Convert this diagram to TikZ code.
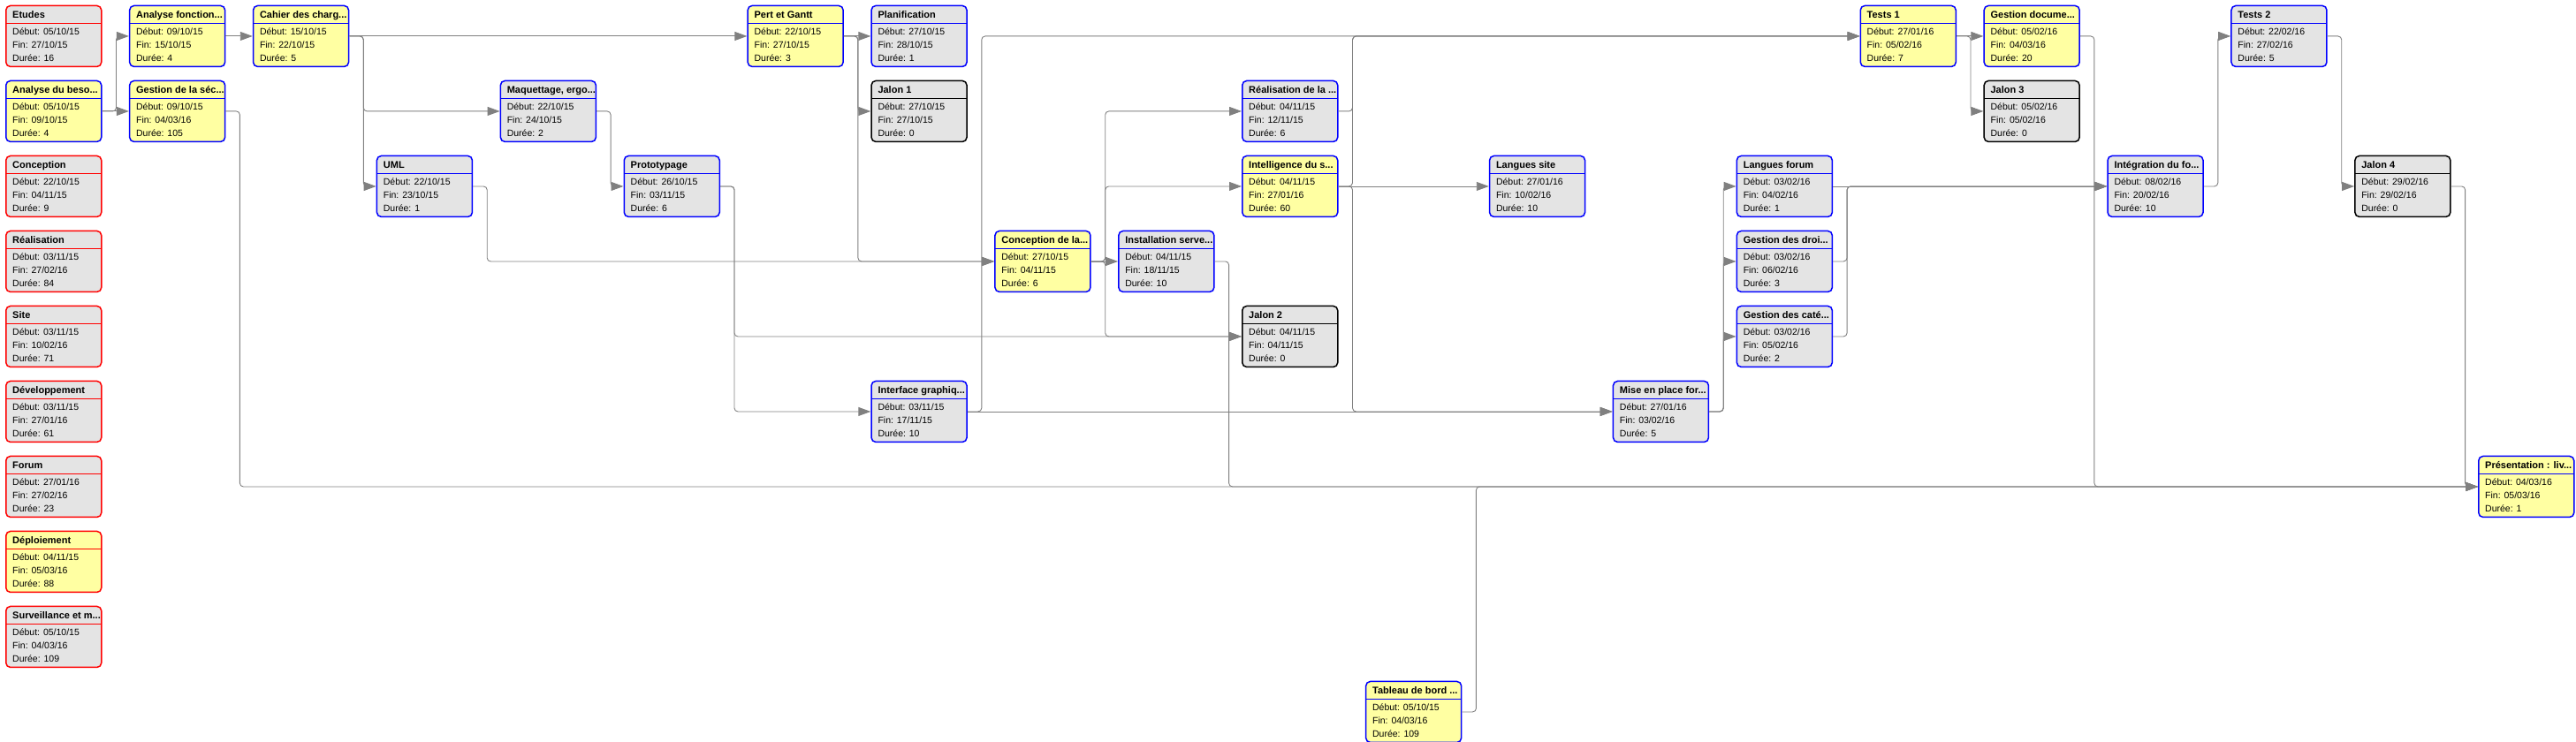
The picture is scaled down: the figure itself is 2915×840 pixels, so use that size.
\documentclass[tikz,border=0pt]{standalone}
\usepackage{fontspec}
\setmainfont{Liberation Sans}
\usepackage{tikz}
\usetikzlibrary{arrows.meta, calc}
\definecolor{fondjaune}{HTML}{FFFFA2}
\definecolor{fondgris}{HTML}{E4E4E4}
\definecolor{bordbleu}{HTML}{0000FF}
\definecolor{bordrouge}{HTML}{FF0000}
\definecolor{bordnoir}{HTML}{000000}
\definecolor{trait}{HTML}{808080}

% une tache : nom, colonne, ligne, fond, bord, titre, debut, fin, duree
\newcommand{\tache}[9]{%
  \node[tache, fill=#4, draw=#5,
        path picture={\draw[#5, line width=1pt]
          ([yshift=-19.6pt]path picture bounding box.north west) --
          ([yshift=-19.6pt]path picture bounding box.north east);}]
    (#1) at ({6+139.9*#2},{5.7+85*#3}) {};
  \node[titre] (#1-t) at ([shift={(8,14.6)}]#1.north west) {#6};
  \node[ligne] (#1-d) at ([shift={(8,33.4)}]#1.north west) {Début: #7};
  \node[ligne] (#1-f) at ([shift={(8,48.4)}]#1.north west) {Fin: #8};
  \node[ligne] (#1-u) at ([shift={(8,63.4)}]#1.north west) {Durée: #9};
}

\begin{document}
\begin{tikzpicture}[
  x=1pt, y=-1pt,
  tache/.style={
    rectangle, rounded corners=5pt, line width=1.5pt,
    minimum width=108pt, minimum height=69pt,
    inner sep=0pt, anchor=north west
  },
  titre/.style={anchor=base west, inner sep=0pt,
    font=\fontsize{11}{13}\selectfont\bfseries},
  ligne/.style={anchor=base west, inner sep=0pt,
    font=\fontsize{10.5}{13}\selectfont},
  lien/.style={draw=trait, line width=0.9pt, rounded corners=4pt,
    -{Triangle[length=14pt,width=10pt]}, fill=none,
    to path={-- ++(16,0) |- (\tikztotarget)}},
  droit/.style={lien, to path={-- (\tikztotarget)}}
]
  \useasboundingbox (0,0) rectangle (2915,840);

  \tache{etudes}{0}{0}{fondgris}{bordrouge}{Etudes}{05/10/15}{27/10/15}{16}
  \tache{besoin}{0}{1}{fondjaune}{bordbleu}{Analyse du beso...}{05/10/15}{09/10/15}{4}
  \tache{conception}{0}{2}{fondgris}{bordrouge}{Conception}{22/10/15}{04/11/15}{9}
  \tache{realisation}{0}{3}{fondgris}{bordrouge}{Réalisation}{03/11/15}{27/02/16}{84}
  \tache{site}{0}{4}{fondgris}{bordrouge}{Site}{03/11/15}{10/02/16}{71}
  \tache{dev}{0}{5}{fondgris}{bordrouge}{Développement}{03/11/15}{27/01/16}{61}
  \tache{forum}{0}{6}{fondgris}{bordrouge}{Forum}{27/01/16}{27/02/16}{23}
  \tache{deploiement}{0}{7}{fondjaune}{bordrouge}{Déploiement}{04/11/15}{05/03/16}{88}
  \tache{surveillance}{0}{8}{fondgris}{bordrouge}{Surveillance et m...}{05/10/15}{04/03/16}{109}

  \tache{anafonc}{1}{0}{fondjaune}{bordbleu}{Analyse fonction...}{09/10/15}{15/10/15}{4}
  \tache{gsecu}{1}{1}{fondjaune}{bordbleu}{Gestion de la séc...}{09/10/15}{04/03/16}{105}
  \tache{cahier}{2}{0}{fondjaune}{bordbleu}{Cahier des charg...}{15/10/15}{22/10/15}{5}
  \tache{uml}{3}{2}{fondgris}{bordbleu}{UML}{22/10/15}{23/10/15}{1}
  \tache{maquette}{4}{1}{fondgris}{bordbleu}{Maquettage, ergo...}{22/10/15}{24/10/15}{2}
  \tache{proto}{5}{2}{fondgris}{bordbleu}{Prototypage}{26/10/15}{03/11/15}{6}
  \tache{pert}{6}{0}{fondjaune}{bordbleu}{Pert et Gantt}{22/10/15}{27/10/15}{3}
  \tache{planif}{7}{0}{fondgris}{bordbleu}{Planification}{27/10/15}{28/10/15}{1}
  \tache{jalonA}{7}{1}{fondgris}{bordnoir}{Jalon 1}{27/10/15}{27/10/15}{0}
  \tache{interface}{7}{5}{fondgris}{bordbleu}{Interface graphiq...}{03/11/15}{17/11/15}{10}
  \tache{concbase}{8}{3}{fondjaune}{bordbleu}{Conception de la...}{27/10/15}{04/11/15}{6}
  \tache{install}{9}{3}{fondgris}{bordbleu}{Installation serve...}{04/11/15}{18/11/15}{10}
  \tache{realis}{10}{1}{fondgris}{bordbleu}{Réalisation de la ...}{04/11/15}{12/11/15}{6}
  \tache{intel}{10}{2}{fondjaune}{bordbleu}{Intelligence du s...}{04/11/15}{27/01/16}{60}
  \tache{jalonB}{10}{4}{fondgris}{bordnoir}{Jalon 2}{04/11/15}{04/11/15}{0}
  \tache{tableau}{11}{9}{fondjaune}{bordbleu}{Tableau de bord ...}{05/10/15}{04/03/16}{109}
  \tache{langsite}{12}{2}{fondgris}{bordbleu}{Langues site}{27/01/16}{10/02/16}{10}
  \tache{miseforum}{13}{5}{fondgris}{bordbleu}{Mise en place for...}{27/01/16}{03/02/16}{5}
  \tache{langforum}{14}{2}{fondgris}{bordbleu}{Langues forum}{03/02/16}{04/02/16}{1}
  \tache{droits}{14}{3}{fondgris}{bordbleu}{Gestion des droi...}{03/02/16}{06/02/16}{3}
  \tache{categ}{14}{4}{fondgris}{bordbleu}{Gestion des caté...}{03/02/16}{05/02/16}{2}
  \tache{testsA}{15}{0}{fondjaune}{bordbleu}{Tests 1}{27/01/16}{05/02/16}{7}
  \tache{gdoc}{16}{0}{fondjaune}{bordbleu}{Gestion docume...}{05/02/16}{04/03/16}{20}
  \tache{jalonC}{16}{1}{fondgris}{bordnoir}{Jalon 3}{05/02/16}{05/02/16}{0}
  \tache{integ}{17}{2}{fondgris}{bordbleu}{Intégration du fo...}{08/02/16}{20/02/16}{10}
  \tache{testsB}{18}{0}{fondgris}{bordbleu}{Tests 2}{22/02/16}{27/02/16}{5}
  \tache{jalonD}{19}{2}{fondgris}{bordnoir}{Jalon 4}{29/02/16}{29/02/16}{0}
  \tache{presentation}{20}{6}{fondjaune}{bordbleu}{Présentation : liv...}{04/03/16}{05/03/16}{1}

  \draw[lien] (besoin.east) to (anafonc.west);
  \draw[droit] (besoin.east) to (gsecu.west);
  \draw[droit] (anafonc.east) to (cahier.west);
  \draw[droit] (cahier.east) to (pert.west);
  \draw[lien] (cahier.east) to (maquette.west);
  \draw[lien] (cahier.east) to (uml.west);
  \draw[lien] (maquette.east) to (proto.west);
  \draw[lien] (uml.east) to (concbase.west);
  \draw[droit] (pert.east) to (planif.west);
  \draw[lien] (pert.east) to (jalonA.west);
  \draw[lien] (pert.east) to (concbase.west);
  \draw[lien] (proto.east) to (jalonB.west);
  \draw[lien] (proto.east) to (interface.west);
  \draw[droit] (interface.east) to (miseforum.west);
  \draw[lien] (interface.east) to (testsA.west);
  \draw[droit] (concbase.east) to (install.west);
  \draw[lien] (concbase.east) to (realis.west);
  \draw[lien] (concbase.east) to (intel.west);
  \draw[lien] (concbase.east) to (jalonB.west);
  \draw[lien] (install.east) to (presentation.west);
  \draw[lien] (realis.east) to (testsA.west);
  \draw[lien] (intel.east) to (testsA.west);
  \draw[droit] (intel.east) to (langsite.west);
  \draw[lien] (intel.east) to (miseforum.west);
  \draw[lien] (gsecu.east) to (presentation.west);
  \draw[lien] (miseforum.east) to (langforum.west);
  \draw[lien] (miseforum.east) to (droits.west);
  \draw[lien] (miseforum.east) to (categ.west);
  \draw[droit] (langforum.east) to (integ.west);
  \draw[lien] (droits.east) to (integ.west);
  \draw[lien] (categ.east) to (integ.west);
  \draw[droit] (testsA.east) to (gdoc.west);
  \draw[lien] (testsA.east) to (jalonC.west);
  \draw[lien] (gdoc.east) to (presentation.west);
  \draw[lien] (integ.east) to (testsB.west);
  \draw[lien] (testsB.east) to (jalonD.west);
  \draw[lien] (jalonD.east) to (presentation.west);
  \draw[lien] (tableau.east) to (presentation.west);
\end{tikzpicture}
\end{document}
